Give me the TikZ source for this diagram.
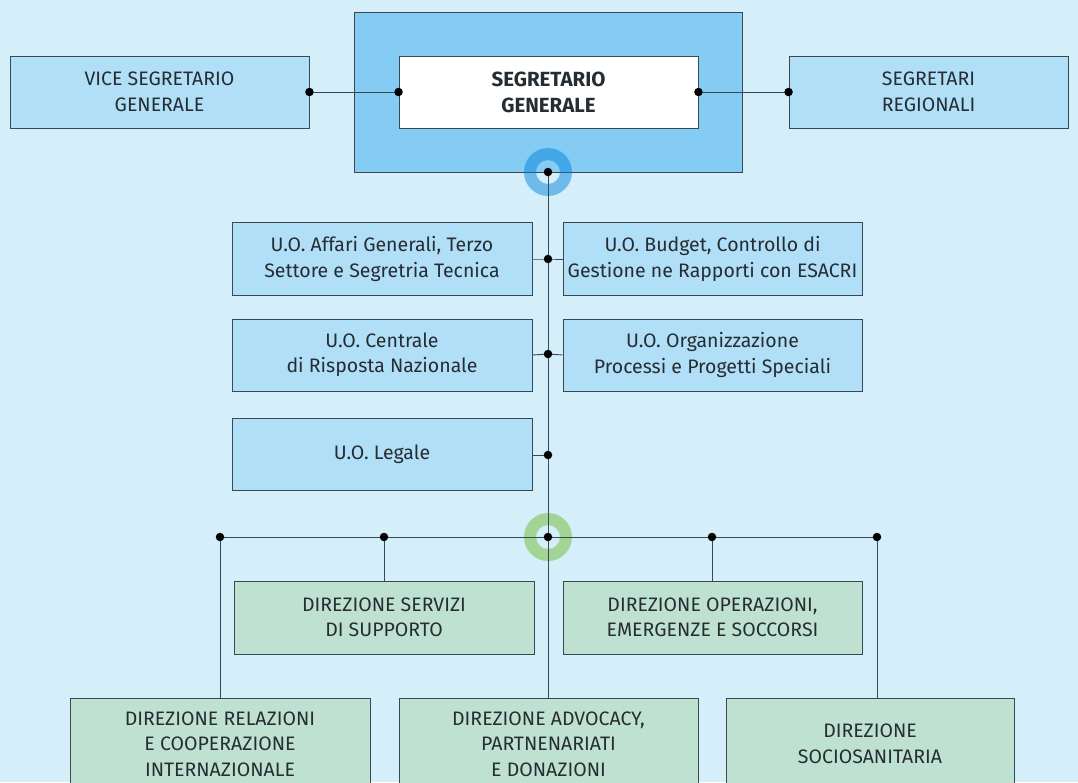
\documentclass[tikz,border=0pt]{standalone}
\usepackage{fontspec}
\setmainfont{Fira Sans}
\usetikzlibrary{positioning}

\definecolor{pagebg}{HTML}{D4EEFA}
\definecolor{topblue}{HTML}{84CCF4}
\definecolor{unitblue}{HTML}{B0DFF7}
\definecolor{dirgreen}{HTML}{BFE1D2}
\definecolor{ringgreen}{HTML}{A2D595}
\definecolor{ringblue}{RGB}{0,130,219}
\definecolor{edgegray}{HTML}{3A4850}
\definecolor{inkgray}{HTML}{262D32}

\tikzset{
  unitbox/.style={draw=edgegray,line width=0.9pt,fill=unitblue,text=inkgray,
    align=center,inner sep=0pt,font=\fontsize{19.5}{25.5}\selectfont},
  dirbox/.style={unitbox,fill=dirgreen},
  junction/.style={circle,inner sep=0pt,minimum size=8.5pt},
  wire/.style={draw=edgegray,line width=0.9pt}
}

\begin{document}
\begin{tikzpicture}[x=1pt,y=-1pt]

    % Page and clip
    \clip (0,0) rectangle (1078,782);
    \fill[pagebg] (0,0) rectangle (1078,782);

    % Top block
    \node[unitbox,fill=topblue,minimum width=388pt,minimum height=160pt] (top) at (548,92) {};
    \fill[ringblue,opacity=0.48,even odd rule] (548,172) circle (24) circle (12);

    \node[unitbox,fill=white,minimum width=299pt,minimum height=72pt,font=\fontsize{20.5}{26}\selectfont\bfseries] (sg) at (548.5,92) {SEGRETARIO\\GENERALE};
    \node[unitbox,minimum width=299pt,minimum height=72pt] (vice) at (159.5,92) {VICE SEGRETARIO\\GENERALE};
    \node[unitbox,minimum width=279pt,minimum height=72pt] (reg) at (928.5,92) {SEGRETARI\\REGIONALI};

    % Staff units
    \node[unitbox,minimum width=300pt,minimum height=73pt] (affari) at (382,259) {U.O. Affari Generali, Terzo\\Settore e Segretria Tecnica};
    \node[unitbox,minimum width=299pt,minimum height=73pt] (budget) at (712.5,259) {U.O. Budget, Controllo di\\Gestione ne Rapporti con ESACRI};
    \node[unitbox,minimum width=300pt,minimum height=72pt] (centrale) at (382,355) {U.O. Centrale\\di Risposta Nazionale};
    \node[unitbox,minimum width=299pt,minimum height=72pt] (organ) at (712.5,355) {U.O. Organizzazione\\Processi e Progetti Speciali};
    \node[unitbox,minimum width=300pt,minimum height=72pt] (legale) at (382,454) {U.O. Legale};

    % Directions
    \fill[ringgreen,even odd rule] (548,537) circle (24) circle (12);
    \node[dirbox,minimum width=300pt,minimum height=73pt] (servizi) at (384,617.5) {DIREZIONE SERVIZI\\DI SUPPORTO};
    \node[dirbox,minimum width=299pt,minimum height=73pt] (operaz) at (712.5,617.5) {DIREZIONE OPERAZIONI,\\EMERGENZE E SOCCORSI};
    \node[dirbox,minimum width=300pt,minimum height=92pt] (relaz) at (220,744) {DIREZIONE RELAZIONI\\E COOPERAZIONE\\INTERNAZIONALE};
    \node[dirbox,minimum width=299pt,minimum height=92pt] (advoc) at (548.5,744) {DIREZIONE ADVOCACY,\\PARTNENARIATI\\E DONAZIONI};
    \node[dirbox,minimum width=288pt,minimum height=92pt] (socio) at (870,744) {DIREZIONE\\SOCIOSANITARIA};

    % Junctions
    \node[junction] (jvice) at (vice.east) {};
    \node[junction] (jsgw) at (sg.west) {};
    \node[junction] (jsge) at (sg.east) {};
    \node[junction] (jreg) at (reg.west) {};
    \node[junction] (jtop) at (548,172) {};
    \node[junction] (j1) at (548,259) {};
    \node[junction] (j2) at (548,354) {};
    \node[junction] (j3) at (548,455) {};
    \node[junction] (jmid) at (548,537) {};
    \node[junction] (ja) at (220,537) {};
    \node[junction] (jb) at (384,537) {};
    \node[junction] (jc) at (712,537) {};
    \node[junction] (jd) at (877,537) {};

    % Connectors
    \draw[wire] (jvice.center) -- (jsgw.center);
    \draw[wire] (jsge.center) -- (jreg.center);
    \draw[wire] (jtop.center) -- (jmid.center);
    \draw[wire] (affari.east) -- (j1.center) -- (budget.west);
    \draw[wire] (centrale.east) -- (j2.center) -- (organ.west);
    \draw[wire] (legale.east |- j3) -- (j3.center);
    \draw[wire] (ja.center) -- (jd.center);
    \draw[wire] (ja.center) -- (ja |- relaz.north);
    \draw[wire] (jb.center) -- (servizi.north);
    \draw[wire] (jmid.center) -- (jmid |- advoc.north);
    \draw[wire] (jc.center) -- (jc |- operaz.north);
    \draw[wire] (jd.center) -- (jd |- socio.north);

    % Dots on top
    \foreach \j in {jvice,jsgw,jsge,jreg,jtop,j1,j2,j3,jmid,ja,jb,jc,jd}
      \fill (\j) circle (4.25pt);

\end{tikzpicture}
\end{document}
